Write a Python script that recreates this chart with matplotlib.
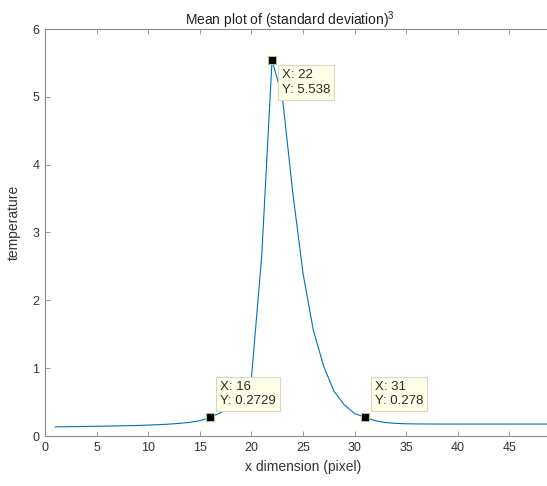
import matplotlib
matplotlib.use("Agg")
import matplotlib.pyplot as plt

plt.rcParams["font.family"] = ["Liberation Sans", "DejaVu Sans"]
plt.rcParams["mathtext.fontset"] = "custom"
plt.rcParams["mathtext.rm"] = "Liberation Sans"
plt.rcParams["mathtext.it"] = "Liberation Sans"

# Mean of (standard deviation)^3 along the x dimension
x_pixel = list(range(1, 51))
mean_std3 = [
    0.135, 0.137, 0.139, 0.141, 0.143, 0.146, 0.149, 0.152, 0.156, 0.161,
    0.167, 0.175, 0.186, 0.201, 0.226, 0.2729, 0.34, 0.45, 0.60, 0.85,
    2.65, 5.538, 5.0, 3.6, 2.4, 1.56, 1.03, 0.66, 0.46, 0.33,
    0.278, 0.225, 0.198, 0.186, 0.180, 0.178, 0.177, 0.176, 0.176, 0.176,
    0.176, 0.176, 0.176, 0.176, 0.176, 0.176, 0.176, 0.176, 0.176, 0.176,
]

# data tips
tip_x = [16, 22, 31]
tip_side = ["above", "below", "above"]

x_ticks = [0, 5, 10, 15, 20, 25, 30, 35, 40, 45]
y_ticks = [0, 1, 2, 3, 4, 5, 6]

W, H = 547, 486
fig = plt.figure(figsize=(W / 100, H / 100), dpi=100)
ax = fig.add_axes([45 / W, 50 / H, 516 / W, 407 / H])

ax.plot(x_pixel, mean_std3, color="#0072BD", lw=0.8, zorder=2)

ax.set_xlim(0, 50)
ax.set_ylim(0, 6)
ax.set_xticks(x_ticks)
ax.set_yticks(y_ticks)

axis_col = "#8a8a8a"
for s in ax.spines.values():
    s.set_color(axis_col)
    s.set_linewidth(0.8)
ax.tick_params(direction="in", length=3.5, width=0.6, color=axis_col,
               labelcolor="#333333", labelsize=9, pad=4,
               top=True, right=True)

ax.text(0.474, 1.01, r"Mean plot of (standard deviation)$^3$",
        transform=ax.transAxes, ha="center", va="baseline",
        fontsize=10, color="#222222")
ax.set_xlabel("x dimension (pixel)", fontsize=10, color="#333333")
ax.xaxis.set_label_coords(0.5, -0.058)
ax.set_ylabel("temperature", fontsize=10, color="#333333")
ax.yaxis.set_label_coords(-0.046, 0.524)

for xv, side in zip(tip_x, tip_side):
    yv = mean_std3[x_pixel.index(xv)]
    ax.plot([xv], [yv], marker="s", ms=6, mfc="black", mec="#bdb88f",
            mew=0.8, ls="none", zorder=5)
    label = f"X: {xv}\nY: {yv:.4g}"
    if side == "above":
        off, va = (10, 10), "bottom"
    else:
        off, va = (10, -9), "top"
    ax.annotate(label, xy=(xv, yv), xytext=off, textcoords="offset pixels",
                ha="left", va=va, fontsize=9.5, color="#2a2a2a",
                linespacing=1.25,
                bbox=dict(boxstyle="square,pad=0.3", fc="#ffffe8",
                          ec="#d8d8c4", lw=0.8),
                zorder=6)

fig.savefig("out.png", dpi=100)
